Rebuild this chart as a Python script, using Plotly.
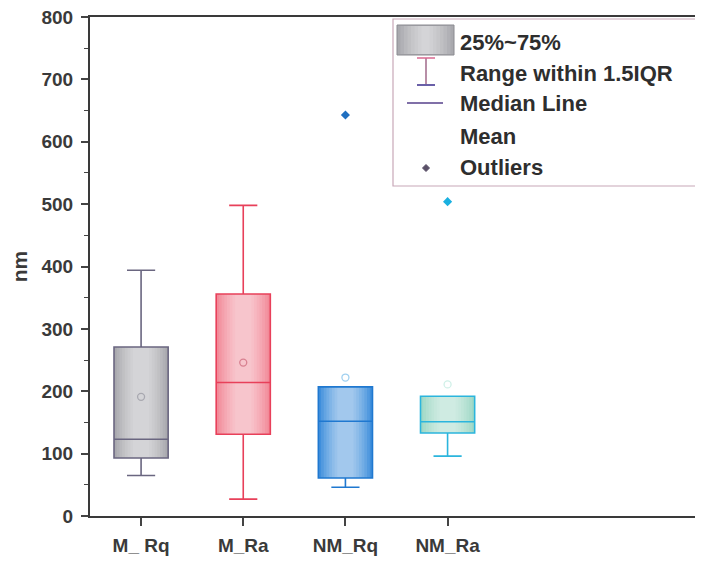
import plotly.graph_objects as go

categories = ["M_ Rq", "M_Ra", "NM_Rq", "NM_Ra"]
positions = [1, 2, 3, 4]
q1 = [93, 131, 61, 133]
median = [123, 214, 152, 151]
q3 = [271, 356, 207, 192]
lowerfence = [65, 27, 46, 96]
upperfence = [394, 498, 207, 192]
means = [191, 246, 222, 211]
outlier_x = [3, 4]
outlier_y = [643, 504]
y_ticks = [0, 100, 200, 300, 400, 500, 600, 700, 800]

fills = ["#a9a9ae", "#f28a98", "#3f8fdc", "#9fd8c6"]
lines = ["#6a6680", "#e8405a", "#1f78d0", "#2bb5dd"]
mean_colors = ["#a8a8b0", "#d88090", "#a0d0f0", "#d0f0e8"]
outlier_colors = ["#1f6fc0", "#1ab0e0"]

# browser body margin offsets the figure by 8 px
OFF = 8
W, H = 703 - OFF, 564 - OFF
ML, MR, MT, MB = 90 - OFF, 0, 17 - OFF, 48
PW, PH = W - ML - MR, H - MT - MB
BOX_W = 0.53


def px(sx):
    return (sx - 90) / PW


def py(sy):
    return (516 - sy) / PH


fig = go.Figure()
for i in range(len(categories)):
    common = dict(x=[positions[i]], q1=[q1[i]], median=[median[i]], q3=[q3[i]],
                  lowerfence=[lowerfence[i]], upperfence=[upperfence[i]],
                  boxpoints=False, showlegend=False, hoverinfo="skip", whiskerwidth=0.52)
    fig.add_trace(go.Box(**common, width=BOX_W, fillcolor=fills[i],
                         line=dict(color=lines[i], width=0)))
    for frac in (0.9, 0.8, 0.7, 0.6, 0.5, 0.4, 0.3):
        fig.add_trace(go.Box(**common, width=BOX_W * frac,
                             fillcolor="rgba(255,255,255,0.1)",
                             line=dict(color="rgba(0,0,0,0)", width=0)))
    fig.add_trace(go.Box(**common, width=BOX_W, fillcolor="rgba(0,0,0,0)",
                         line=dict(color=lines[i], width=1.6)))

fig.add_trace(go.Scatter(
    x=positions, y=means, mode="markers",
    marker=dict(symbol="circle-open", size=7, color=mean_colors, line=dict(width=1.3)),
    showlegend=False, hoverinfo="skip",
))
fig.add_trace(go.Scatter(
    x=outlier_x, y=outlier_y, mode="markers",
    marker=dict(symbol="diamond", size=7, color=outlier_colors),
    showlegend=False, hoverinfo="skip",
))

shapes = []
shapes.append(dict(type="rect", xref="paper", yref="paper",
                   x0=px(393), x1=px(700), y0=py(186), y1=py(19),
                   line=dict(color="#c8a8b8", width=1.2), fillcolor="white", layer="above"))
shapes.append(dict(type="rect", xref="paper", yref="paper",
                   x0=px(397), x1=px(454), y0=py(55), y1=py(25),
                   line=dict(color="#8a8a90", width=1), fillcolor="#a9a9ae", layer="above"))
for k in range(1, 8):
    inset = k * 3.5
    shapes.append(dict(type="rect", xref="paper", yref="paper",
                       x0=px(397 + inset), x1=px(454 - inset), y0=py(54), y1=py(26),
                       line=dict(width=0), fillcolor="rgba(255,255,255,0.1)", layer="above"))
shapes.append(dict(type="line", xref="paper", yref="paper",
                   x0=px(426), x1=px(426), y0=py(85), y1=py(58),
                   line=dict(color="#a0688a", width=1.5), layer="above"))
shapes.append(dict(type="line", xref="paper", yref="paper",
                   x0=px(417), x1=px(435), y0=py(58), y1=py(58),
                   line=dict(color="#d86890", width=1.5), layer="above"))
shapes.append(dict(type="line", xref="paper", yref="paper",
                   x0=px(417), x1=px(435), y0=py(85), y1=py(85),
                   line=dict(color="#6a60a8", width=2), layer="above"))
shapes.append(dict(type="line", xref="paper", yref="paper",
                   x0=px(407), x1=px(443), y0=py(103), y1=py(103),
                   line=dict(color="#8070a8", width=1.8), layer="above"))
cx, cy, r = 426, 168, 3.5
path = "M {} {} L {} {} L {} {} L {} {} Z".format(
    px(cx), py(cy - r), px(cx + r), py(cy), px(cx), py(cy + r), px(cx - r), py(cy))
shapes.append(dict(type="path", xref="paper", yref="paper", path=path,
                   fillcolor="#5a5068", line=dict(color="#5a5068", width=1), layer="above"))

legend_texts = ["25%~75%", "Range within 1.5IQR", "Median Line", "Mean", "Outliers"]
legend_ys = [42, 73, 104, 136, 168]
annotations = []
for t, yy in zip(legend_texts, legend_ys):
    annotations.append(dict(text="<b>" + t + "</b>", xref="paper", yref="paper",
                            x=px(458), y=py(yy),
                            xanchor="left", yanchor="middle", showarrow=False,
                            font=dict(family="Liberation Sans, Arial", size=22, color="#2e2e2e")))

fig.update_layout(
    width=W, height=H,
    margin=dict(l=ML, r=MR, t=MT, b=MB, autoexpand=False),
    paper_bgcolor="white", plot_bgcolor="white",
    shapes=shapes, annotations=annotations,
    showlegend=False, boxmode="overlay",
    font=dict(family="Liberation Sans, Arial", color="#333333"),
    xaxis=dict(range=[0.5, 6.5], tickmode="array", tickvals=positions,
               ticktext=["<b>" + c + "</b>" for c in categories],
               ticks="outside", ticklen=8, tickwidth=1.5, tickcolor="#444",
               ticklabelstandoff=3,
               showline=True, linecolor="#3a3a3a", linewidth=2, mirror=True,
               showgrid=False, zeroline=False,
               tickfont=dict(size=19, color="#3a3a3a")),
    yaxis=dict(range=[0, 800], tickmode="array", tickvals=y_ticks,
               ticktext=["<b>%d</b>" % v for v in y_ticks],
               ticklabeloverflow="allow", ticklabelstandoff=4,
               ticks="outside", ticklen=7, tickwidth=1.5, tickcolor="#444",
               minor=dict(ticks="outside", ticklen=4, tickvals=[50, 150, 250, 350, 450, 550, 650, 750],
                          tickcolor="#444", tickwidth=1.2),
               showline=True, linecolor="#3a3a3a", linewidth=2, mirror=True,
               showgrid=False, zeroline=False,
               title=dict(text="<b>nm</b>", font=dict(size=21, color="#3a3a3a"), standoff=10),
               tickfont=dict(size=19, color="#3a3a3a")),
)

fig.write_html("out.html")
